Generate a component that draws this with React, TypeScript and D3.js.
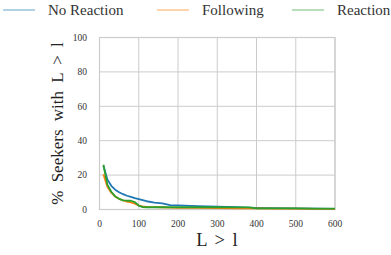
import React from 'react';
import * as d3 from 'd3';

// L thresholds and % of seekers with L > l
const lengths = [10, 20, 30, 40, 50, 60, 70, 80, 90, 100, 110, 120, 140, 160, 180, 200, 250, 300, 350, 380, 400, 450, 500, 550, 600];
const noReaction = [25.4, 17.5, 13.8, 11.5, 10.0, 8.9, 8.0, 7.3, 6.6, 6.0, 5.4, 4.8, 4.0, 3.5, 2.6, 2.4, 2.0, 1.6, 1.3, 1.1, 1.0, 0.8, 0.6, 0.5, 0.4];
const following = [20.5, 13.2, 9.8, 7.5, 6.1, 5.3, 4.6, 4.1, 3.4, 2.3, 1.8, 1.5, 1.4, 1.3, 1.1, 1.0, 0.9, 0.8, 0.7, 0.7, 0.6, 0.5, 0.5, 0.4, 0.4];
const reaction = [26.0, 14.5, 10.3, 7.6, 6.2, 5.3, 5.1, 5.1, 4.3, 2.3, 1.4, 1.3, 1.3, 1.3, 1.3, 1.3, 1.3, 1.3, 1.2, 1.2, 0.7, 0.6, 0.6, 0.5, 0.5];

const seriesNames = ['No Reaction', 'Following', 'Reaction'];
const colors = ['#1f77b4', '#ff7f0e', '#2ca02c'];
const xTicks = [0, 100, 200, 300, 400, 500, 600];
const yTicks = [0, 20, 40, 60, 80, 100];

const W = 391;
const H = 255;
const grid = '#cccccc';
const txt = { fontFamily: "'Liberation Serif', 'Times New Roman', Times, serif" };

const App = () => {
  const x = d3.scaleLinear().domain([0, 600]).range([99.5, 335]);
  const y = d3.scaleLinear().domain([0, 100]).range([209.5, 37.5]);

  const line = d3.line<[number, number]>()
    .x(d => x(d[0]))
    .y(d => y(d[1]));

  const all = [noReaction, following, reaction];
  const legendX = [3, 157, 292];

  return (
    <svg width={W} height={H} style={{ position: 'absolute', left: 0, top: 0, background: '#fff' }}>
      {/* grid */}
      {xTicks.map(t => (
        <line key={'gx' + t} x1={x(t)} x2={x(t)} y1={y(100)} y2={y(0)} stroke={grid} strokeWidth={1} />
      ))}
      {yTicks.map(t => (
        <line key={'gy' + t} x1={x(0)} x2={x(600)} y1={y(t)} y2={y(t)} stroke={grid} strokeWidth={1} />
      ))}
      <rect x={x(0)} y={y(100)} width={x(600) - x(0)} height={y(0) - y(100)} fill="none" stroke={grid} strokeWidth={1.2} />

      {/* tick labels */}
      {xTicks.map(t => (
        <text key={'tx' + t} x={x(t)} y={227} textAnchor="middle" style={txt} fontSize={9.5} fill="#333">{t}</text>
      ))}
      {yTicks.map(t => (
        <text key={'ty' + t} x={87} y={y(t)} dy="0.35em" textAnchor="end" style={txt} fontSize={9.5} fill="#333">{t}</text>
      ))}

      {/* series */}
      {all.map((vals, i) => (
        <path key={'s' + i}
          d={line(lengths.map((l, j) => [l, vals[j]] as [number, number])) || ''}
          fill="none" stroke={colors[i]} strokeWidth={1.8} strokeLinejoin="round" />
      ))}

      {/* axis labels */}
      <text x={217} y={245.5} textAnchor="middle" style={txt} fontSize={18.5} wordSpacing={3} fill="#222">L &gt; l</text>
      <text transform={`translate(63,${(y(0) + y(100)) / 2}) rotate(-90)`} textAnchor="middle" style={txt} fontSize={17} wordSpacing={4} fill="#222">% Seekers with L &gt; l</text>

      {/* legend */}
      {seriesNames.map((name, i) => (
        <g key={'lg' + i}>
          <line x1={legendX[i]} x2={legendX[i] + 32} y1={10} y2={10} stroke={colors[i]} strokeOpacity={0.45} strokeWidth={1.5} />
          <text x={legendX[i] + 45} y={15} style={txt} fontSize={15} fill="#333">{name}</text>
        </g>
      ))}
    </svg>
  );
};

export default App;
